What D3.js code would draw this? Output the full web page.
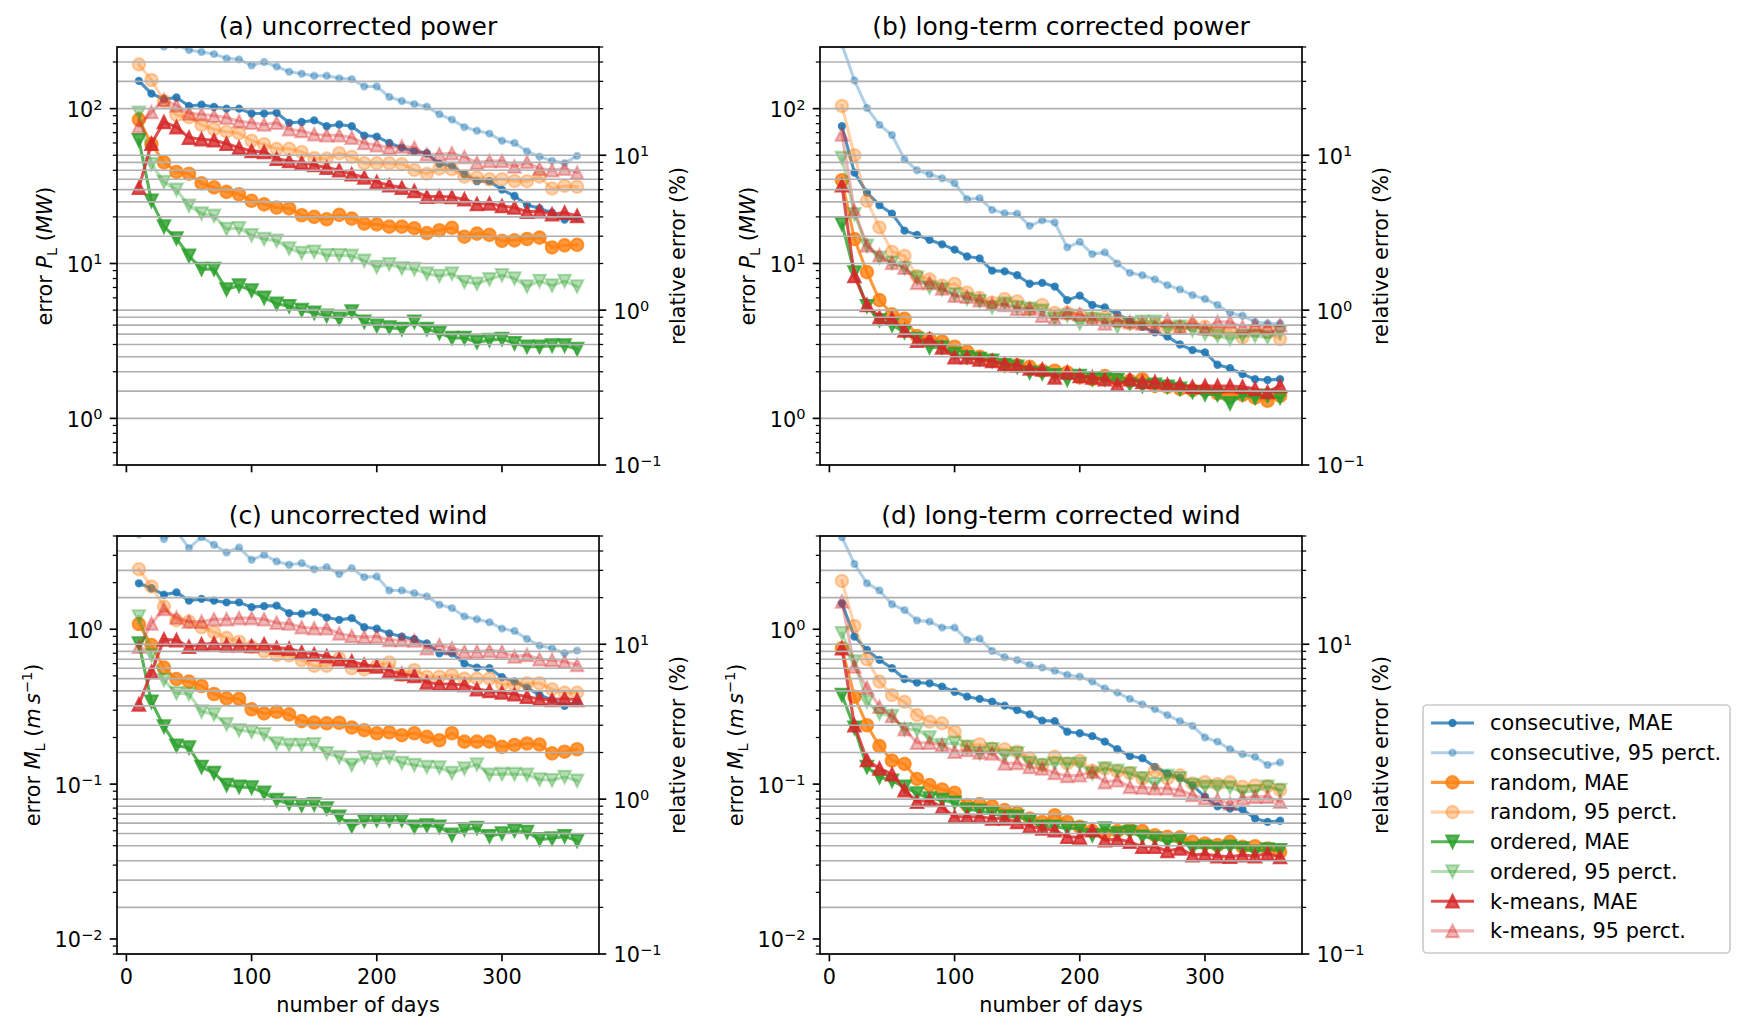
<!DOCTYPE html>
<html>
<head>
<meta charset="utf-8">
<script src="https://cdn.jsdelivr.net/npm/d3@7"></script>
<style>
body { margin: 0; background: #fff; }
svg { display: block; font-family: "DejaVu Sans", sans-serif; }
text { white-space: pre; }
</style>
</head>
<body>
<svg id="fig" width="1749" height="1035"></svg>
<script>
// x values: number of days
const days = [10,20,30,40,50,60,70,80,90,100,110,120,130,140,150,160,170,180,190,200,210,220,230,240,250,260,270,280,290,300,310,320,330,340,350,360];

// (a) uncorrected power, MW
const aConsMAE = [151,125,115,118,104,106,102.5,100,100,93,93,94,81,82,84,77,79,77,67,66,60,56,53,51.5,44,42.7,37.7,34,34,30,27.3,23.9,22.7,21.3,19.2,19.8];
const aCons95 = [300,275,252,258,239,232,225,211,208,190,200,187,173,168,163,163,157,155,139,139,119,112,107,103,92,85,76,72,69,62,60,53,49,46,44.5,49.5];
const aRandMAE = [85,59,45,39,38,33,31,29,28,25.4,24.1,23,22.7,20.5,20,19.3,20.6,19.5,18.1,17.9,17.3,17.3,16.9,15.7,16.4,17,14.9,15.6,15.3,14,14.1,14.4,14.7,12.7,13.1,13.2];
const aRand95 = [193,153,112,91,88,78.5,73.6,71,69.3,62,58.9,55,55,52.5,48,47.6,51.5,48.8,44.4,44.4,44.4,43.8,40.2,38,41,40.6,36.4,35.9,35,35,34.1,34,36.4,30.5,31.7,31.3];
const aOrdMAE = [62.5,25.4,17.3,14.5,11.2,9.2,9.2,6.8,7.2,6.7,6.0,5.5,5.3,5.0,4.8,4.6,4.4,4.9,4.2,3.96,3.86,3.77,4.2,3.77,3.56,3.3,3.3,3.1,3.2,3.25,3.05,2.9,2.9,2.95,2.95,2.8];
const aOrd95 = [94,43.8,33.6,29.9,23.6,21,20.3,16.7,16.9,15.2,14.4,14,12.5,11.7,11.9,11.3,11.3,11.2,10.4,9.5,9.9,9.3,9.2,8.6,8.3,8.6,7.6,7.4,7.9,8.4,8.0,7.1,7.7,7.2,7.7,7.1];
const aKmMAE = [30.9,59.4,82,76,65,63.4,62.5,59.4,56,53.3,52.5,47.5,45.9,44.8,43.3,41.6,40,37.7,36,33.6,32,30.9,29.4,27,27.2,26.9,26,24.2,24.4,23.5,23,21.6,21.8,20.8,21.3,20.3];
const aKm95 = [77,95,114,105,93,92,90,87.5,83,81,79,81,73.6,71.8,68.3,67.3,67.3,65,60,58,56,57,56,50.7,50.7,51.5,48.8,44.8,45.9,45.9,42.3,45.2,41,40,41,38.6];

// (b) long-term corrected power, MW
const bConsMAE = [77,38.6,28.7,23.8,21,16.3,15.3,14.2,13.3,12.3,11.1,10.8,9.0,8.9,8.4,7.4,7.5,7.1,5.8,6.2,5.4,5.2,4.7,4.3,3.9,3.6,3.37,3.0,2.76,2.67,2.22,2.11,1.93,1.79,1.77,1.79];
const bCons95 = [260,152,101,78.5,67.6,47,40,37.7,35.5,33,26,26.4,22.2,21.1,21,17.5,19,18.4,12.7,13.8,11.5,11.8,10,8.7,8.4,7.9,7.25,6.8,6.25,5.9,5.4,4.8,4.6,4.2,4.1,4.1];
const bRandMAE = [34.5,14.4,8.8,5.8,4.7,4.4,3.4,3.25,3.14,2.9,2.7,2.5,2.35,2.2,2.2,2.15,2.03,2.03,1.98,1.84,1.79,1.88,1.77,1.75,1.79,1.62,1.6,1.55,1.52,1.52,1.45,1.43,1.42,1.36,1.30,1.40];
const bRand95 = [104,50,25.4,17.1,11.9,11.2,8.3,7.9,7.2,7.4,6.5,6.0,5.6,5.9,5.7,5.1,5.4,4.8,4.8,4.65,4.4,4.5,4.3,4.1,4.1,4.1,3.9,3.9,4.0,3.9,3.6,3.7,3.33,3.7,3.6,3.25];
const bOrdMAE = [18,8.75,5.3,4.3,4.0,3.6,3.25,2.87,2.87,2.6,2.48,2.42,2.35,2.2,2.15,1.98,1.95,1.9,1.78,1.88,1.79,1.79,1.77,1.66,1.62,1.65,1.6,1.55,1.48,1.43,1.42,1.25,1.42,1.36,1.4,1.36];
const bOrd95 = [48,20.8,13,10.9,10.1,9.3,8.1,7.0,6.8,6.3,5.9,5.7,5.2,5.5,5.2,5.1,4.95,4.4,4.6,4.1,4.4,4.3,3.9,4.1,4.2,4.2,3.77,3.9,3.7,3.5,3.4,3.25,3.4,3.4,3.33,3.6];
const bKmMAE = [32,8.3,5.4,4.5,4.4,3.7,3.17,3.25,2.87,2.48,2.48,2.4,2.35,2.25,2.2,2.1,2.07,1.84,1.98,1.88,1.84,1.79,1.65,1.79,1.72,1.72,1.65,1.65,1.6,1.62,1.62,1.62,1.6,1.55,1.48,1.62];
const bKm95 = [68,21.9,13.1,11.3,10.1,9.4,7.5,7.5,6.9,6.2,6.1,5.8,5.5,5.4,5.1,5.1,4.6,4.4,4.8,4.7,4.4,4.1,4.3,4.2,4.1,3.9,4.3,3.9,4.2,3.8,4.2,4.2,3.9,4.0,3.9,4.0];

// (c) uncorrected wind, m/s
const cConsMAE = [1.98,1.84,1.67,1.73,1.53,1.57,1.53,1.49,1.49,1.39,1.41,1.42,1.27,1.26,1.29,1.19,1.15,1.18,1.03,1.01,0.94,0.897,0.862,0.81,0.70,0.70,0.60,0.565,0.56,0.49,0.46,0.42,0.376,0.35,0.32,0.34];
const cCons95 = [4.1,4.5,3.82,4.3,3.34,3.93,3.51,3.13,3.37,2.81,3.02,2.74,2.61,2.67,2.44,2.52,2.27,2.48,2.17,2.19,1.78,1.78,1.71,1.63,1.44,1.37,1.21,1.16,1.11,1.01,0.975,0.866,0.784,0.753,0.70,0.728];
const cRandMAE = [1.08,0.79,0.565,0.477,0.459,0.43,0.382,0.358,0.355,0.304,0.286,0.293,0.282,0.255,0.25,0.247,0.249,0.232,0.223,0.213,0.216,0.207,0.213,0.202,0.192,0.213,0.188,0.188,0.188,0.174,0.179,0.183,0.18,0.158,0.162,0.168];
const cRand95 = [2.44,1.89,1.40,1.14,1.12,1.03,0.956,0.88,0.83,0.77,0.72,0.68,0.676,0.63,0.58,0.58,0.65,0.56,0.55,0.58,0.61,0.507,0.546,0.494,0.494,0.507,0.48,0.48,0.48,0.443,0.437,0.448,0.448,0.41,0.39,0.39];
const cOrdMAE = [0.81,0.34,0.235,0.177,0.172,0.129,0.118,0.0986,0.096,0.095,0.088,0.0788,0.075,0.073,0.074,0.0696,0.0615,0.0535,0.058,0.0585,0.0585,0.0585,0.053,0.054,0.053,0.047,0.051,0.052,0.046,0.048,0.050,0.049,0.044,0.0445,0.046,0.043];
const cOrd95 = [1.21,0.68,0.47,0.386,0.382,0.294,0.282,0.243,0.223,0.218,0.21,0.183,0.179,0.179,0.181,0.158,0.149,0.133,0.149,0.144,0.149,0.137,0.133,0.129,0.128,0.118,0.126,0.134,0.115,0.116,0.116,0.115,0.107,0.106,0.111,0.105];
const cKmMAE = [0.327,0.53,0.86,0.85,0.77,0.80,0.81,0.79,0.79,0.78,0.80,0.76,0.75,0.71,0.69,0.67,0.64,0.62,0.59,0.574,0.54,0.514,0.50,0.454,0.443,0.443,0.437,0.41,0.40,0.39,0.38,0.367,0.355,0.35,0.357,0.35];
const cKm95 = [0.77,1.09,1.35,1.19,1.12,1.12,1.16,1.16,1.18,1.18,1.16,1.10,1.09,1.03,1.015,1.015,0.94,0.905,0.89,0.897,0.853,0.853,0.845,0.754,0.79,0.754,0.717,0.717,0.728,0.717,0.666,0.682,0.64,0.634,0.618,0.588];

// (d) long-term corrected wind, m/s
const dConsMAE = [1.47,0.897,0.735,0.634,0.56,0.477,0.452,0.448,0.426,0.395,0.367,0.355,0.341,0.321,0.301,0.282,0.257,0.255,0.218,0.213,0.204,0.188,0.168,0.152,0.147,0.129,0.117,0.110,0.0986,0.0828,0.072,0.0696,0.0685,0.060,0.057,0.058];
const dCons95 = [3.93,2.64,1.98,1.78,1.45,1.33,1.14,1.12,1.025,1.025,0.853,0.87,0.724,0.66,0.633,0.588,0.565,0.54,0.507,0.494,0.459,0.415,0.39,0.355,0.327,0.305,0.279,0.255,0.238,0.20,0.188,0.168,0.156,0.150,0.133,0.138];
const dRandMAE = [0.754,0.367,0.24,0.176,0.142,0.135,0.108,0.0986,0.0924,0.088,0.0732,0.0743,0.072,0.068,0.0653,0.06,0.057,0.063,0.057,0.053,0.0499,0.048,0.0497,0.051,0.0497,0.0468,0.0457,0.0453,0.0424,0.0414,0.0404,0.0424,0.0394,0.0397,0.0384,0.0365];
const dRand95 = [2.05,1.05,0.64,0.459,0.376,0.34,0.279,0.253,0.247,0.218,0.174,0.181,0.17,0.168,0.162,0.147,0.133,0.150,0.136,0.141,0.122,0.126,0.121,0.118,0.109,0.122,0.109,0.114,0.101,0.103,0.100,0.103,0.096,0.098,0.097,0.0915];
const dOrdMAE = [0.376,0.231,0.129,0.111,0.105,0.096,0.087,0.0807,0.079,0.0757,0.0686,0.0673,0.0646,0.0615,0.0615,0.058,0.053,0.053,0.0517,0.0517,0.0468,0.0517,0.048,0.049,0.0457,0.0446,0.0424,0.0435,0.0384,0.0394,0.0384,0.0394,0.0384,0.0365,0.0378,0.0374];
const dOrd95 = [0.943,0.618,0.34,0.286,0.275,0.226,0.224,0.20,0.179,0.185,0.174,0.158,0.168,0.152,0.158,0.137,0.133,0.136,0.135,0.135,0.117,0.126,0.122,0.117,0.109,0.100,0.113,0.109,0.0986,0.096,0.096,0.095,0.089,0.090,0.096,0.0915];
const dKmMAE = [0.754,0.24,0.143,0.126,0.116,0.0915,0.0769,0.079,0.0706,0.0615,0.0615,0.0615,0.06,0.06,0.057,0.0535,0.0517,0.0504,0.0457,0.0453,0.0504,0.0435,0.044,0.0424,0.0394,0.0394,0.037,0.0384,0.0348,0.0353,0.0343,0.034,0.0348,0.0343,0.0356,0.0338];
const dKm95 = [1.51,0.574,0.42,0.316,0.275,0.226,0.185,0.185,0.179,0.162,0.166,0.16,0.158,0.136,0.137,0.129,0.126,0.118,0.113,0.114,0.12,0.103,0.106,0.096,0.095,0.094,0.094,0.0915,0.085,0.081,0.0796,0.075,0.081,0.083,0.083,0.077];

const seriesNames = ['consecutive, MAE','consecutive, 95 perct.','random, MAE','random, 95 perct.','ordered, MAE','ordered, 95 perct.','k-means, MAE','k-means, 95 perct.'];

// styles (tab10 colours, MAE opaque-ish, percentile faint)
const styles = [
  {color:'#1f77b4', alpha:0.8,  marker:'point'},
  {color:'#1f77b4', alpha:0.35, marker:'point'},
  {color:'#ff7f0e', alpha:0.8,  marker:'circle'},
  {color:'#ff7f0e', alpha:0.35, marker:'circle'},
  {color:'#2ca02c', alpha:0.8,  marker:'down'},
  {color:'#2ca02c', alpha:0.35, marker:'down'},
  {color:'#d62728', alpha:0.8,  marker:'up'},
  {color:'#d62728', alpha:0.35, marker:'up'}
];

const W = 482, H = 418;
const FS = 20.8;
const panels = [
  {title:'(a) uncorrected power', x:117, y:47, left:[0.5,250], kind:'power', xlab:false,
   series:[aConsMAE,aCons95,aRandMAE,aRand95,aOrdMAE,aOrd95,aKmMAE,aKm95]},
  {title:'(b) long-term corrected power', x:820, y:47, left:[0.5,250], kind:'power', xlab:false,
   series:[bConsMAE,bCons95,bRandMAE,bRand95,bOrdMAE,bOrd95,bKmMAE,bKm95]},
  {title:'(c) uncorrected wind', x:117, y:536, left:[0.008,4], kind:'wind', xlab:true,
   series:[cConsMAE,cCons95,cRandMAE,cRand95,cOrdMAE,cOrd95,cKmMAE,cKm95]},
  {title:'(d) long-term corrected wind', x:820, y:536, left:[0.008,4], kind:'wind', xlab:true,
   series:[dConsMAE,dCons95,dRandMAE,dRand95,dOrdMAE,dOrd95,dKmMAE,dKm95]}
];
const rightDomain = [0.1, 50];

const svg = d3.select('#fig');
const x = d3.scaleLinear().domain([-7.5, 377.5]).range([0, W]);

//marker paths
function markerPath(kind) {
  if (kind === 'point') return d3.symbol(d3.symbolCircle, Math.PI * 3.125 * 3.125)();
  if (kind === 'circle') return d3.symbol(d3.symbolCircle, Math.PI * 6.25 * 6.25)();
  const s = 6.25;
  if (kind === 'up') return `M0,${-s}L${-s},${s}L${s},${s}Z`;
  return `M0,${s}L${-s},${-s}L${s},${-s}Z`;
}

//log ticks within a domain
function logTicks(domain) {
  const major = [], minor = [];
  const lo = Math.floor(Math.log10(domain[0])), hi = Math.ceil(Math.log10(domain[1]));
  for (let k = lo; k <= hi; k++) {
    for (let m = 1; m < 10; m++) {
      const v = +(m * Math.pow(10, k)).toPrecision(6);
      if (v < domain[0] * 0.9999 || v > domain[1] * 1.0001) continue;
      (m === 1 ? major : minor).push({v: v, k: k});
    }
  }
  return {major, minor};
}

function powLabel(sel, k) {
  sel.append('tspan').text('10');
  sel.append('tspan').attr('font-size', FS * 0.7).attr('dy', -7.5)
    .text(k < 0 ? '\u2212' + (-k) : String(k));
}

panels.forEach((p, pi) => {
  const g = svg.append('g').attr('transform', `translate(${p.x},${p.y})`);
  const yL = d3.scaleLog().domain(p.left).range([H, 0]);
  const yR = d3.scaleLog().domain(rightDomain).range([H, 0]);

  g.append('clipPath').attr('id', 'clip' + pi)
    .append('rect').attr('width', W).attr('height', H);
  const plot = g.append('g').attr('clip-path', `url(#clip${pi})`);

  // lines + markers
  p.series.forEach((vals, si) => {
    const st = styles[si];
    const pts = days.map((d, i) => [x(d), yL(vals[i])]);
    plot.append('path')
      .attr('d', d3.line()(pts))
      .attr('fill', 'none')
      .attr('stroke', st.color)
      .attr('stroke-opacity', st.alpha)
      .attr('stroke-width', 3.1)
      .attr('stroke-linejoin', 'round')
      .attr('stroke-linecap', 'square');
    const mp = markerPath(st.marker);
    plot.append('g').selectAll('path').data(pts).enter().append('path')
      .attr('d', mp)
      .attr('transform', d => `translate(${d[0]},${d[1]})`)
      .attr('fill', st.color)
      .attr('fill-opacity', st.alpha)
      .attr('stroke', st.color)
      .attr('stroke-opacity', st.alpha)
      .attr('stroke-width', 2.08);
  });

  // right-axis grid (drawn on top like the twin axes)
  const rt = logTicks(rightDomain);
  g.append('g').selectAll('line').data(rt.major.concat(rt.minor)).enter().append('line')
    .attr('x1', 0).attr('x2', W)
    .attr('y1', d => yR(d.v)).attr('y2', d => yR(d.v))
    .attr('stroke', '#b0b0b0').attr('stroke-width', 1.67);

  // spines
  g.append('rect').attr('width', W).attr('height', H)
    .attr('fill', 'none').attr('stroke', '#000').attr('stroke-width', 1.67);

  // left ticks
  const lt = logTicks(p.left);
  g.append('g').selectAll('line').data(lt.minor).enter().append('line')
    .attr('x1', 0).attr('x2', -4.2).attr('y1', d => yL(d.v)).attr('y2', d => yL(d.v))
    .attr('stroke', '#000').attr('stroke-width', 1.25);
  g.append('g').selectAll('line').data(lt.major).enter().append('line')
    .attr('x1', 0).attr('x2', -7.3).attr('y1', d => yL(d.v)).attr('y2', d => yL(d.v))
    .attr('stroke', '#000').attr('stroke-width', 1.67);
  g.append('g').selectAll('text').data(lt.major).enter().append('text')
    .attr('x', -14.6).attr('y', d => yL(d.v) + 8.4)
    .attr('text-anchor', 'end').attr('font-size', FS)
    .each(function (d) { powLabel(d3.select(this), d.k); });

  // right ticks
  g.append('g').selectAll('line').data(rt.minor).enter().append('line')
    .attr('x1', W).attr('x2', W + 4.2).attr('y1', d => yR(d.v)).attr('y2', d => yR(d.v))
    .attr('stroke', '#000').attr('stroke-width', 1.25);
  g.append('g').selectAll('line').data(rt.major).enter().append('line')
    .attr('x1', W).attr('x2', W + 7.3).attr('y1', d => yR(d.v)).attr('y2', d => yR(d.v))
    .attr('stroke', '#000').attr('stroke-width', 1.67);
  g.append('g').selectAll('text').data(rt.major).enter().append('text')
    .attr('x', W + 14.6).attr('y', d => yR(d.v) + 8.4)
    .attr('text-anchor', 'start').attr('font-size', FS)
    .each(function (d) { powLabel(d3.select(this), d.k); });

  // bottom ticks
  const xt = [0, 100, 200, 300];
  g.append('g').selectAll('line').data(xt).enter().append('line')
    .attr('x1', d => x(d)).attr('x2', d => x(d)).attr('y1', H).attr('y2', H + 7.3)
    .attr('stroke', '#000').attr('stroke-width', 1.67);
  if (p.xlab) {
    g.append('g').selectAll('text').data(xt).enter().append('text')
      .attr('x', d => x(d)).attr('y', H + 30.4)
      .attr('text-anchor', 'middle').attr('font-size', FS)
      .text(d => d);
    g.append('text').attr('x', W / 2).attr('y', H + 58)
      .attr('text-anchor', 'middle').attr('font-size', FS)
      .text('number of days');
  }

  // title
  g.append('text').attr('x', W / 2).attr('y', -12.5)
    .attr('text-anchor', 'middle').attr('font-size', 25)
    .text(p.title);

  // left label
  const lx = p.kind === 'power' ? -65 : -77;
  const yl = g.append('text')
    .attr('transform', `translate(${lx},${H / 2}) rotate(-90)`)
    .attr('text-anchor', 'middle').attr('font-size', FS);
  yl.append('tspan').text('error ');
  if (p.kind === 'power') {
    yl.append('tspan').attr('font-style', 'italic').text('P');
    yl.append('tspan').attr('font-size', FS * 0.7).attr('dy', 4.5).text('L');
    yl.append('tspan').attr('dy', -4.5).text(' (');
    yl.append('tspan').attr('font-style', 'italic').text('MW');
    yl.append('tspan').text(')');
  } else {
    yl.append('tspan').attr('font-style', 'italic').text('M');
    yl.append('tspan').attr('font-size', FS * 0.7).attr('dy', 4.5).text('L');
    yl.append('tspan').attr('dy', -4.5).text(' (');
    yl.append('tspan').attr('font-style', 'italic').text('m\u2009s');
    yl.append('tspan').attr('font-size', FS * 0.7).attr('dy', -8).text('\u22121');
    yl.append('tspan').attr('dy', 8).text(')');
  }

  // right label
  g.append('text')
    .attr('transform', `translate(${W + 86},${H / 2}) rotate(-90)`)
    .attr('text-anchor', 'middle').attr('font-size', FS)
    .text('relative error (%)');
});

// legend
const leg = svg.append('g').attr('transform', 'translate(1423,705)');
leg.append('rect').attr('width', 307).attr('height', 248).attr('rx', 4)
  .attr('fill', '#fff').attr('fill-opacity', 0.8)
  .attr('stroke', '#cccccc').attr('stroke-width', 1.67);
seriesNames.forEach((name, i) => {
  const st = styles[i];
  const cy = 18 + i * 29.7;
  const row = leg.append('g').attr('transform', `translate(0,${cy})`);
  row.append('line').attr('x1', 8).attr('x2', 51).attr('y1', 0).attr('y2', 0)
    .attr('stroke', st.color).attr('stroke-opacity', st.alpha).attr('stroke-width', 3.1);
  row.append('path').attr('d', markerPath(st.marker)).attr('transform', 'translate(29.5,0)')
    .attr('fill', st.color).attr('fill-opacity', st.alpha)
    .attr('stroke', st.color).attr('stroke-opacity', st.alpha).attr('stroke-width', 2.08);
  row.append('text').attr('x', 67).attr('y', 7.3).attr('font-size', FS).text(name);
});
</script>
</body>
</html>
